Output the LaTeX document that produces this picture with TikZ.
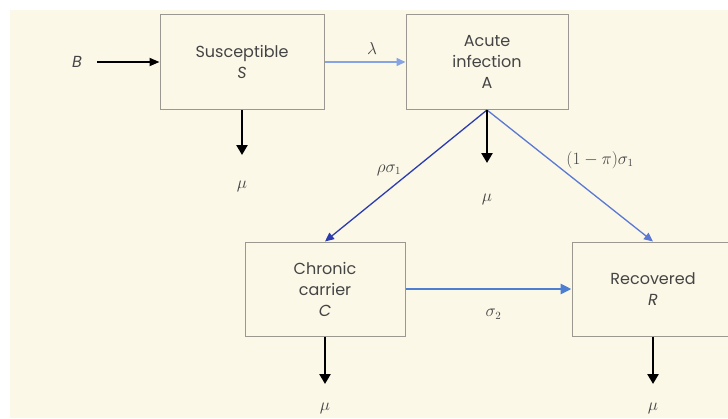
\documentclass[tikz,border=0pt]{standalone}
\usepackage{fontspec}
\setmainfont{Poppins}
\usetikzlibrary{positioning,arrows.meta}
\definecolor{paper}{HTML}{FBF8E8}
\definecolor{boxgray}{HTML}{9A9890}
\definecolor{textgray}{HTML}{444444}
\definecolor{lightblue}{HTML}{86A4E4}
\definecolor{midblue}{HTML}{5A78D4}
\definecolor{darkblue}{HTML}{2C3CB0}
\definecolor{flowblue}{HTML}{4C7ED2}

\begin{document}
\begin{tikzpicture}[x=1pt,y=-1pt,
box/.style={draw=boxgray,line width=1pt,fill=paper,rectangle,minimum width=162pt,minimum height=95pt,
  align=center,text=textgray,font=\fontsize{16}{21}\selectfont},
rate/.style={text=textgray,inner sep=1pt,font=\fontsize{16}{18}\selectfont},
death/.style={-{Triangle[width=11pt,length=10pt]},line width=2.6pt,black},
flow/.style={-{Triangle[width=8pt,length=9pt]},line width=1.4pt}]
\useasboundingbox (0,0) rectangle (728,418);
\fill[paper] (10,10) rectangle (728,418);

\node (S) [box,minimum width=164pt] at (242,62) {Susceptible\\\textit{S}};
\node (A) [box] at (487,62) {Acute\\infection\\A};
\node (C) [box,minimum width=160pt,minimum height=94pt] at (325,289) {Chronic\\carrier\\\textit{C}};
\node (R) [box,minimum height=94pt] at (653,289) {Recovered\\\textit{R}};

\node (B) [rate] at (77,62) {\textit{B}};
\coordinate (bIn) at (97,62);
\draw [-{Triangle[width=8pt,length=10pt]},line width=1.8pt] (bIn) -- (S.west);

% infection and progression
\draw [flow,lightblue,line width=1.6pt] (S) -- node (lambda) [rate,above=6pt,xshift=7pt] {$\lambda$} (A);
\draw [flow,darkblue,line width=1.3pt] (A.south) -- (C.north);
\draw [flow,midblue,line width=1.3pt] (A.south) -- (R.north);
\draw [flow,flowblue,line width=2.8pt,-{Triangle[width=10pt,length=11pt]}] (C) -- node (sigTwo) [rate,below=18pt,xshift=5pt] {$\sigma_2$} (R);
\node (rhoSig) [rate] at (389,170) {$\rho\sigma_1$};
\node (oneMinus) [rate] at (600,160) {$(1-\pi)\sigma_1$};

% deaths
\node (muS) [rate,below=70pt of S] {$\mu$};
\node (muA) [rate,below=83pt of A] {$\mu$};
\node (muC) [rate,below=65pt of C] {$\mu$};
\node (muR) [rate,below=65pt of R] {$\mu$};
\coordinate (endS) at (242,155);
\coordinate (endA) at (487,163);
\coordinate (endC) at (325,384);
\coordinate (endR) at (653,384);
\draw [death] (S) -- (endS);
\draw [death] (A) -- (endA);
\draw [death] (C) -- (endC);
\draw [death] (R) -- (endR);
\end{tikzpicture}
\end{document}
